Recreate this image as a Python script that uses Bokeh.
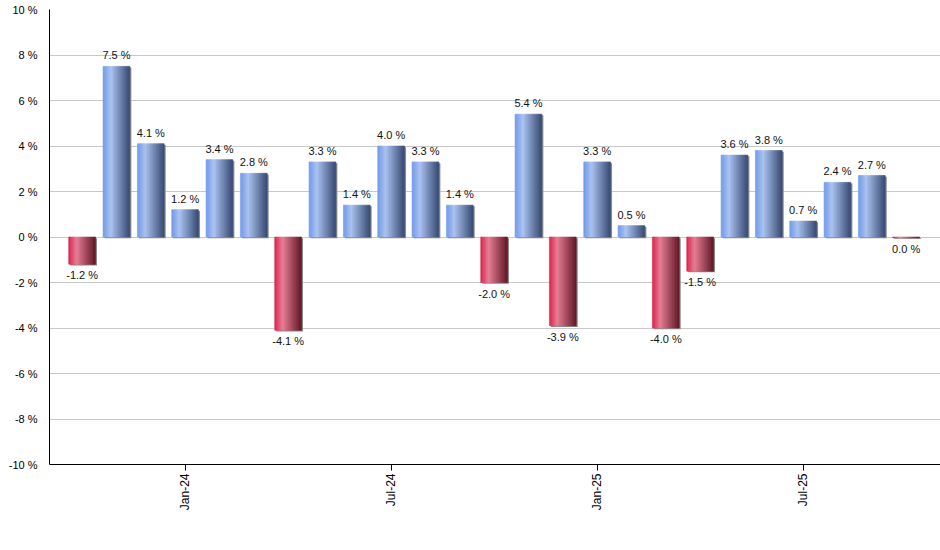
import math
from bokeh.plotting import figure
from bokeh.models import ColumnDataSource, Range1d, FixedTicker
from bokeh.core.properties import value
from bokeh.embed import file_html
from bokeh.resources import INLINE

# ---- data ----
months = ["Oct-23", "Nov-23", "Dec-23", "Jan-24", "Feb-24", "Mar-24", "Apr-24",
          "May-24", "Jun-24", "Jul-24", "Aug-24", "Sep-24", "Oct-24", "Nov-24",
          "Dec-24", "Jan-25", "Feb-25", "Mar-25", "Apr-25", "May-25", "Jun-25",
          "Jul-25", "Aug-25", "Sep-25", "Oct-25"]
returns = [-1.2, 7.5, 4.1, 1.2, 3.4, 2.8, -4.1, 3.3, 1.4, 4.0, 3.3, 1.4, -2.0,
           5.4, -3.9, 3.3, 0.5, -4.0, -1.5, 3.6, 3.8, 0.7, 2.4, 2.7, -0.03]
y_ticks = [-10, -8, -6, -4, -2, 0, 2, 4, 6, 8, 10]

# ---- styling ----
W, H = 940, 540
BL, BT, BB, BR = 49, 9, 76, 0
X0, X1 = -0.95, len(months)
Y0, Y1 = -10, 10
BAR_W = 0.78
NSTRIP = 18
FONT = "Liberation Sans"

px_x = (X1 - X0) / (W - BL - BR)
px_y = (Y1 - Y0) / (H - BT - BB)

BLUE = [(110, 152, 234), (172, 197, 243), (54, 74, 116)]
RED = [(222, 30, 72), (234, 126, 150), (98, 22, 38)]


def grad(cols, t, mid=0.3):
    a, b, c = cols
    if t <= mid:
        f = t / mid
        p, q = a, b
    else:
        f = (t - mid) / (1 - mid)
        p, q = b, c
    r = [int(round(p[j] + (q[j] - p[j]) * f)) for j in range(3)]
    return "#%02x%02x%02x" % tuple(r)


p = figure(width=W, height=H, output_backend="svg", toolbar_location=None,
           x_range=Range1d(X0, X1), y_range=Range1d(Y0, Y1),
           min_border_left=BL, min_border_top=BT, min_border_bottom=BB,
           min_border_right=BR, outline_line_color=None,
           background_fill_color="white", border_fill_color="white")

# grid
p.xgrid.grid_line_color = None
p.ygrid.grid_line_color = "#c8c8c8"
p.ygrid.grid_line_width = 1
p.ygrid.ticker = FixedTicker(ticks=y_ticks)

# y axis
p.yaxis.ticker = FixedTicker(ticks=y_ticks)
p.yaxis.major_label_overrides = {t: f"{t} %" for t in y_ticks}
p.yaxis.axis_line_color = "black"
p.yaxis.major_tick_line_color = None
p.yaxis.minor_tick_line_color = None
p.yaxis.major_label_text_font = FONT
p.yaxis.major_label_text_font_size = "11px"
p.yaxis.major_label_text_color = "black"
p.yaxis.major_label_standoff = 6

# x axis
xt = [i for i, m in enumerate(months) if m.startswith("Jan") or m.startswith("Jul")]
p.xaxis.ticker = FixedTicker(ticks=xt)
p.xaxis.major_label_overrides = {i: months[i] for i in xt}
p.xaxis.major_label_orientation = math.pi / 2
p.xaxis.axis_line_color = "black"
p.xaxis.major_tick_line_color = "black"
p.xaxis.major_tick_out = 6
p.xaxis.major_tick_in = 0
p.xaxis.minor_tick_line_color = None
p.xaxis.major_label_text_font = FONT
p.xaxis.major_label_text_font_size = "12px"
p.xaxis.major_label_text_color = "black"
p.xaxis.major_label_standoff = 3

# shadows
sh = dict(l=[], r=[], b=[], t=[])
for i, v in enumerate(returns):
    lo, hi = min(0, v), max(0, v)
    sh["l"].append(i - BAR_W / 2 + 1.5 * px_x)
    sh["r"].append(i + BAR_W / 2 + 1.5 * px_x)
    sh["b"].append(lo - 1.2 * px_y)
    sh["t"].append(hi - 1.2 * px_y)
p.quad(left="l", right="r", bottom="b", top="t", source=ColumnDataSource(sh),
       fill_color="#8a8a8a", line_color=None)

# gradient bars (vertical strips)
st = dict(l=[], r=[], b=[], t=[], c=[])
for i, v in enumerate(returns):
    lo, hi = min(0, v), max(0, v)
    if hi - lo < px_y:
        lo = hi - px_y
    cols = BLUE if v > 0 else RED
    sw = BAR_W / NSTRIP
    for k in range(NSTRIP):
        st["l"].append(i - BAR_W / 2 + k * sw)
        st["r"].append(i - BAR_W / 2 + (k + 1) * sw)
        st["b"].append(lo)
        st["t"].append(hi)
        st["c"].append(grad(cols, (k + 0.5) / NSTRIP))
p.quad(left="l", right="r", bottom="b", top="t", source=ColumnDataSource(st),
       fill_color="c", line_color="c", line_width=0.6)


def fmt(v):
    r = round(v, 1)
    if r == 0:
        r = 0.0
    return f"{r:.1f} %"


pos = dict(x=[], y=[], s=[])
neg = dict(x=[], y=[], s=[])
for i, v in enumerate(returns):
    d = pos if v > 0 else neg
    d["x"].append(i)
    d["y"].append(v)
    d["s"].append(fmt(v))

p.text(x="x", y="y", text="s", source=ColumnDataSource(pos),
       text_align="center", text_baseline="bottom", y_offset=-5,
       text_font=value(FONT), text_font_size="11px", text_color="#111111")
p.text(x="x", y="y", text="s", source=ColumnDataSource(neg),
       text_align="center", text_baseline="top", y_offset=5,
       text_font=value(FONT), text_font_size="11px", text_color="#111111")

open("out.html", "w").write(file_html(p, INLINE))
